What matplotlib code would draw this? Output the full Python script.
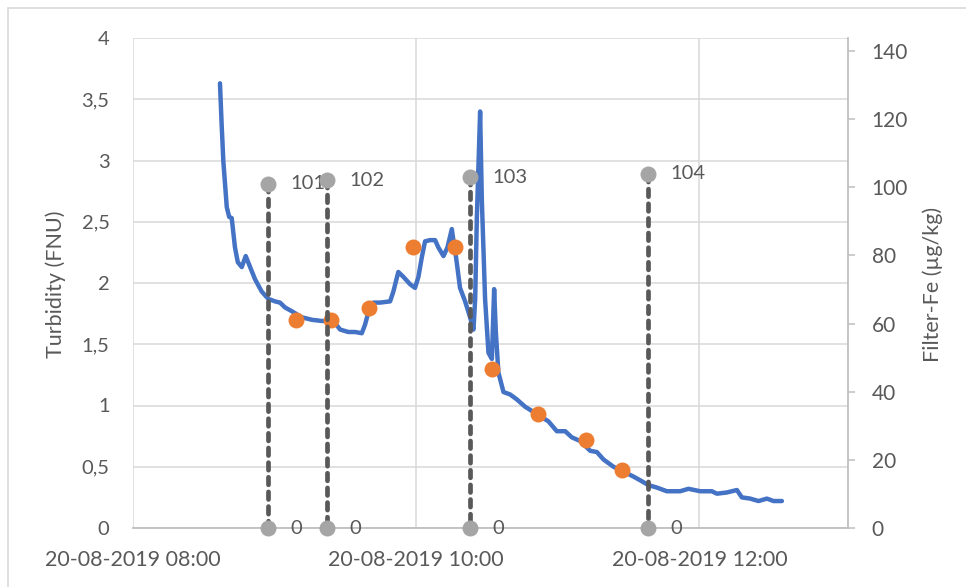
import matplotlib
matplotlib.use("Agg")
import matplotlib.pyplot as plt
import matplotlib.dates as mdates
from matplotlib.patches import Rectangle
import pandas as pd

# ---------------- data ----------------
day = "2019-08-20"

# turbidity (FNU) vs time of day (decimal hours)
turb_hours = [8.613, 8.625, 8.637, 8.661, 8.678, 8.696, 8.719, 8.739, 8.767, 8.795,
              8.826, 8.861, 8.908, 8.955, 9.002, 9.037, 9.073, 9.120, 9.191, 9.261,
              9.332, 9.377, 9.414, 9.462, 9.520, 9.568, 9.615, 9.638, 9.661, 9.697,
              9.744, 9.815, 9.838, 9.873, 9.909, 9.956, 9.991, 10.015, 10.039, 10.062,
              10.097, 10.133, 10.156, 10.192, 10.220, 10.251, 10.267, 10.281, 10.309, 10.345,
              10.380, 10.404, 10.416, 10.428, 10.451, 10.463, 10.486, 10.510, 10.534, 10.550,
              10.562, 10.580, 10.616, 10.663, 10.710, 10.769, 10.852, 10.934, 10.993, 11.052,
              11.099, 11.158, 11.229, 11.276, 11.322, 11.393, 11.464, 11.534, 11.581, 11.640,
              11.700, 11.770, 11.864, 11.923, 12.006, 12.088, 12.124, 12.194, 12.265, 12.300,
              12.359, 12.418, 12.477, 12.524, 12.583]
turb_values = [3.63, 3.29, 2.99, 2.62, 2.54, 2.53, 2.29, 2.17, 2.13, 2.22,
               2.13, 2.03, 1.93, 1.87, 1.85, 1.84, 1.80, 1.77, 1.72, 1.70,
               1.69, 1.69, 1.69, 1.62, 1.60, 1.60, 1.59, 1.66, 1.76, 1.84,
               1.84, 1.85, 1.93, 2.09, 2.05, 1.99, 1.96, 2.05, 2.21, 2.34,
               2.35, 2.35, 2.29, 2.22, 2.29, 2.44, 2.31, 2.21, 1.96, 1.85,
               1.72, 1.62, 1.87, 2.54, 3.40, 2.68, 1.87, 1.43, 1.38, 1.95,
               1.60, 1.27, 1.11, 1.09, 1.05, 0.99, 0.93, 0.87, 0.79, 0.79,
               0.74, 0.71, 0.63, 0.62, 0.56, 0.50, 0.46, 0.42, 0.39, 0.35,
               0.33, 0.30, 0.30, 0.32, 0.30, 0.30, 0.28, 0.29, 0.31, 0.25,
               0.24, 0.22, 0.24, 0.22, 0.22]

# turbidity samples (orange points)
sample_hours = [9.150, 9.397, 9.666, 9.977, 10.274, 10.536, 10.862, 11.201, 11.456]
sample_values = [1.70, 1.70, 1.80, 2.29, 2.29, 1.30, 0.93, 0.72, 0.47]

# Filter-Fe (µg/kg) samples shown as vertical drop lines
filter_hours = [8.951, 9.367, 10.382, 11.636]
filter_values = [101, 102, 103, 104]

x_tick_hours = [8, 10, 12]
x_range_hours = [8.0, 13.05]
left_ticks = [0, 0.5, 1, 1.5, 2, 2.5, 3, 3.5, 4]
right_ticks = [0, 20, 40, 60, 80, 100, 120, 140]
right_max = 143.8


def to_dt(hours):
    return [pd.Timestamp(day) + pd.Timedelta(hours=h) for h in hours]


# ---------------- style ----------------
plt.rcParams['font.family'] = ['Lato', 'DejaVu Sans']
TXT = '#595959'
GRID = '#D9D9D9'
AXIS = '#BFBFBF'
BLUE = '#4472C4'
ORANGE = '#ED7D31'
GREY = '#A5A5A5'
DASH = '#595959'
FS = 14.5

W, H = 966, 587
fig = plt.figure(figsize=(W / 100, H / 100), dpi=100)
fig.patch.set_facecolor('white')

# chart area border
fig.add_artist(Rectangle((8 / W, -0.1), 1.2, (H - 8) / H + 0.1, transform=fig.transFigure,
                         fill=False, edgecolor=GRID, linewidth=1.2))

L, R, T, B = 133.2, 848, 38, 528
ax = fig.add_axes([L / W, (H - B) / H, (R - L) / W, (B - T) / H])
ax2 = ax.twinx()

# primary series
ax.plot(to_dt(turb_hours), turb_values, color=BLUE, lw=3.2, solid_joinstyle='round',
        solid_capstyle='round', zorder=3)
ax.plot(to_dt(sample_hours), sample_values, linestyle='none', marker='o', ms=11.5,
        color=ORANGE, markeredgewidth=0, zorder=4)

# secondary series: vertical drop lines
for h, v in zip(filter_hours, filter_values):
    xs = to_dt([h, h])
    ax2.plot(xs, [v, 0], color=DASH, lw=3.4, linestyle=(0, (1.6, 1.5)),
             dash_capstyle='round', marker='o', ms=11.5, markerfacecolor=GREY,
             markeredgewidth=0, clip_on=False, zorder=5)
    ax2.annotate(str(v), (xs[0], v), xytext=(16, 0), textcoords='offset points',
                 ha='left', va='center', color=TXT, fontsize=FS, annotation_clip=False)
    ax2.annotate('0', (xs[1], 0), xytext=(16, 0), textcoords='offset points',
                 ha='left', va='center', color=TXT, fontsize=FS, annotation_clip=False)

# axes limits / ticks
ax.set_xlim(to_dt(x_range_hours))
ax.set_ylim(0, 4)
ax2.set_ylim(0, right_max)

ax.set_xticks(to_dt(x_tick_hours))
ax.xaxis.set_major_formatter(mdates.DateFormatter('%d-%m-%Y %H:%M'))
ax.set_yticks(left_ticks)
ax.set_yticklabels([('%g' % v).replace('.', ',') for v in left_ticks])
ax2.set_yticks(right_ticks)

ax.grid(True, color=GRID, lw=1.1, zorder=0)
ax.set_axisbelow(True)

for a in (ax, ax2):
    for s in ('top', 'left', 'right', 'bottom'):
        a.spines[s].set_visible(False)
ax2.spines['right'].set_visible(True)
ax2.spines['right'].set_color(AXIS)
ax2.spines['right'].set_linewidth(1.3)
ax.spines['bottom'].set_visible(True)
ax.spines['bottom'].set_color(AXIS)
ax.spines['bottom'].set_linewidth(1.3)

ax.tick_params(axis='x', length=0, pad=16, labelsize=15.5, labelcolor=TXT)
ax.tick_params(axis='y', length=0, pad=17, labelsize=FS, labelcolor=TXT)
ax2.tick_params(axis='y', direction='out', length=5, width=1.1, color=AXIS, pad=12,
                labelsize=15, labelcolor=TXT)

ax.set_ylabel('Turbidity (FNU)', color=TXT, fontsize=15.5)
ax.yaxis.set_label_coords(-0.094, 0.497)
ax2.set_ylabel('Filter-Fe (µg/kg)', color=TXT, fontsize=15.5)
ax2.yaxis.set_label_coords(1.104, 0.497)

fig.savefig('out.png', dpi=100)
